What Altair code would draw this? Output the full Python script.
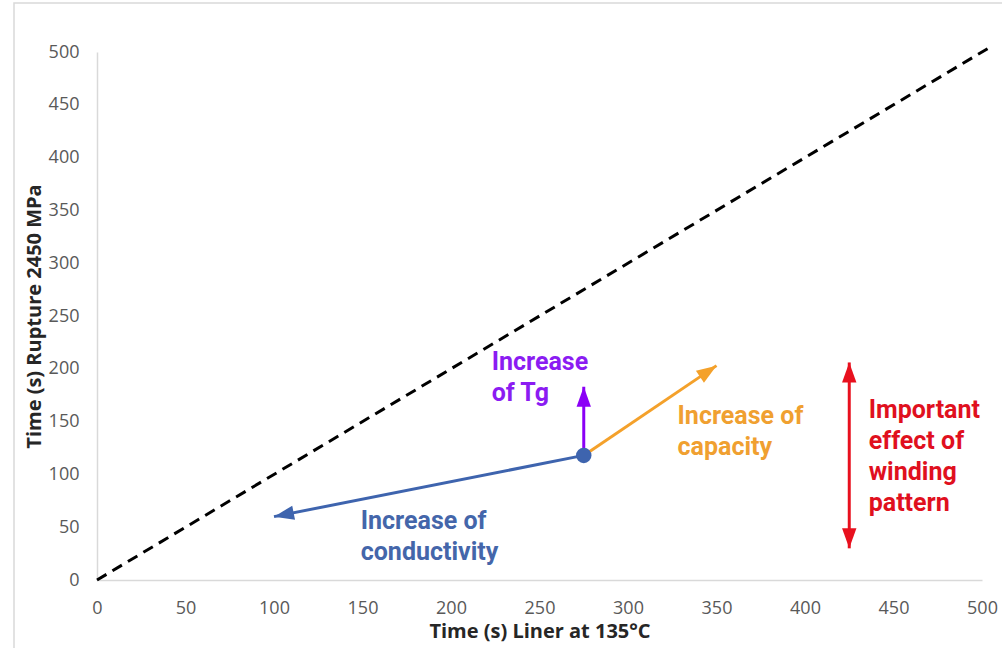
import math
import altair as alt
import pandas as pd

# ---- data ----
diag_x = [0, 506]
diag_y = [0, 506]

point_x = [275]
point_y = [118]

# arrows: start -> end
arrow_names = ["conductivity", "capacity", "tg", "winding_up", "winding_down"]
arrow_x0 = [275, 275, 275, 425, 425]
arrow_y0 = [118, 118, 118, 118, 118]
arrow_x1 = [100, 350, 275, 425, 425]
arrow_y1 = [60, 203, 183, 206, 30]
arrow_colors = ["#3E64AE", "#F4A12B", "#8B00F6", "#E8101E", "#E8101E"]

label_text = [
    ["Increase", "of Tg"],
    ["Increase of", "capacity"],
    ["Increase of", "conductivity"],
    ["Important", "effect of", "winding", "pattern"],
]
label_x = [223, 328, 149, 436]
label_y = [199, 148, 48, 153]
label_colors = ["#8B1CF2", "#F0A030", "#4466AA", "#E0101E"]

tick_values = [0, 50, 100, 150, 200, 250, 300, 350, 400, 450, 500]

W, H = 885, 528
xscale = alt.Scale(domain=[0, 500], nice=False, zero=False)
yscale = alt.Scale(domain=[0, 500], nice=False, zero=False)

x_axis = alt.Axis(values=tick_values, title="Time (s) Liner at 135°C", grid=False,
                  ticks=False, tickSize=0, domainColor="#D9D9D9", domainWidth=1.5,
                  labelFont="Open Sans", labelFontSize=18, labelColor="#595959",
                  labelPadding=19, labelFlush=False,
                  titleFont="Open Sans", titleFontSize=20,
                  titleFontWeight="bold", titleColor="#262626", titlePadding=4)
y_axis = alt.Axis(values=tick_values, title="Time (s) Rupture 2450 MPa", grid=False,
                  ticks=False, tickSize=0, domainColor="#D9D9D9", domainWidth=1.5,
                  labelFont="Open Sans", labelFontSize=18, labelColor="#595959",
                  labelPadding=18, labelFlush=False,
                  titleFont="Open Sans", titleFontSize=20,
                  titleFontWeight="bold", titleColor="#262626", titlePadding=4)

base_axes = alt.Chart(pd.DataFrame({"x": [0], "y": [0]})).mark_point(opacity=0).encode(
    x=alt.X("x:Q", scale=xscale, axis=x_axis),
    y=alt.Y("y:Q", scale=yscale, axis=y_axis),
)

diag = alt.Chart(pd.DataFrame({"x": diag_x, "y": diag_y})).mark_line(
    color="black", strokeWidth=3, strokeDash=[11, 7], clip=False
).encode(x=alt.X("x:Q", scale=xscale), y=alt.Y("y:Q", scale=yscale))

adf = pd.DataFrame({"name": arrow_names, "x0": arrow_x0, "y0": arrow_y0,
                    "x1": arrow_x1, "y1": arrow_y1, "c": arrow_colors})
# winding arrow shaft runs between the two tips
adf_shaft = adf.copy()
adf_shaft.loc[adf_shaft.name == "winding_up", ["y0"]] = arrow_y1[4]
adf_shaft = adf_shaft[adf_shaft.name != "winding_down"]

shafts = alt.Chart(adf_shaft).mark_rule(strokeWidth=3).encode(
    x=alt.X("x0:Q", scale=xscale), y=alt.Y("y0:Q", scale=yscale),
    x2="x1:Q", y2="y1:Q", color=alt.Color("c:N", scale=None),
)

# head angles computed from direction in pixel space
def head_angle(x0, y0, x1, y1):
    dx = (x1 - x0) * W / 500.0
    dy = -(y1 - y0) * H / 500.0
    a = math.degrees(math.atan2(dx, -dy))
    return (a + 360) % 360

adf["angle"] = [head_angle(a, b, c, d) for a, b, c, d in zip(arrow_x0, arrow_y0, arrow_x1, arrow_y1)]
heads_layers = []
for i, r in adf.iterrows():
    heads_layers.append(
        alt.Chart(pd.DataFrame([r])).mark_point(
            shape="M0,0 L0.72,2 L-0.72,2 Z", filled=True, size=400, opacity=1,
            angle=float(r["angle"]), color=r["c"], strokeWidth=0
        ).encode(x=alt.X("x1:Q", scale=xscale), y=alt.Y("y1:Q", scale=yscale))
    )

dot = alt.Chart(pd.DataFrame({"x": point_x, "y": point_y})).mark_circle(
    size=240, color="#3E64AE", opacity=1
).encode(x=alt.X("x:Q", scale=xscale), y=alt.Y("y:Q", scale=yscale))

text_layers = []
for t, x, y, c in zip(label_text, label_x, label_y, label_colors):
    text_layers.append(
        alt.Chart(pd.DataFrame({"x": [x], "y": [y]})).mark_text(
            text=t, align="left", baseline="alphabetic", font="Roboto",
            fontWeight="bold", fontSize=25, lineHeight=31, color=c
        ).encode(x=alt.X("x:Q", scale=xscale), y=alt.Y("y:Q", scale=yscale))
    )

border = alt.Chart(pd.DataFrame({"x": [0]})).mark_rect(
    fill=None, stroke="#D9D9D9", strokeWidth=1.5, clip=False
).encode(x=alt.value(-83), x2=alt.value(930), y=alt.value(-49), y2=alt.value(620))

chart = alt.layer(border, base_axes, diag, shafts, *heads_layers, dot, *text_layers).properties(
    width=W, height=H,
    autosize=alt.AutoSizeParams(type="none"),
    padding={"left": 97, "top": 52, "right": 20, "bottom": 68},
    background="white",
).configure_view(stroke=None)

chart.save("out.html", embed_options={"renderer": "svg", "actions": False})
